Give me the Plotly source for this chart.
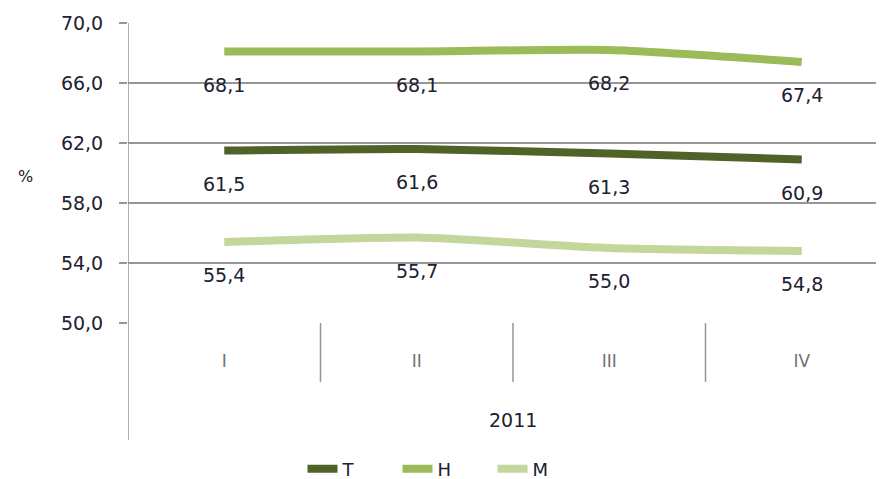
import plotly.graph_objects as go

categories = ["I", "II", "III", "IV"]
period = "2011"
series_names = ["T", "H", "M"]
t_values = [61.5, 61.6, 61.3, 60.9]
h_values = [68.1, 68.1, 68.2, 67.4]
m_values = [55.4, 55.7, 55.0, 54.8]
y_ticks = [50, 54, 58, 62, 66, 70]
colors = ["#4f6228", "#9bbb59", "#c3d69b"]

# page body has an 8px margin; figure is sized so it fits the 884x479 window
W, H = 876, 471
L, T, B = 120, 15, 156
plot_w = W - L
plot_h = H - T - B
cat_w = 192.5
x_pos = list(range(len(categories)))
x_max = plot_w / cat_w - 0.5

font = "DejaVu Sans"
text_col = "#202030"
grid_col = "#969696"

fig = go.Figure()
for name, vals, col in zip(series_names, [t_values, h_values, m_values], colors):
    fig.add_trace(go.Scatter(
        x=x_pos, y=vals, name=name, mode="lines",
        line=dict(color=col, width=8, shape="spline", smoothing=0.6),
        hoverinfo="skip",
    ))
    for xv, yv in zip(x_pos, vals):
        fig.add_annotation(x=xv, y=yv, xref="x", yref="y",
                           text=f"{yv:.1f}".replace(".", ","),
                           showarrow=False, yshift=-33,
                           font=dict(family=font, size=19, color=text_col))

# category dividers below the axis
for i in range(1, len(categories)):
    fig.add_shape(type="line", xref="x", yref="paper", x0=i - 0.5, x1=i - 0.5,
                  y0=0, y1=-59 / plot_h, line=dict(color=grid_col, width=1.5))
# left axis extending through category area
fig.add_shape(type="line", xref="x", yref="paper", x0=-0.5, x1=-0.5,
              y0=1, y1=-117 / plot_h, line=dict(color=grid_col, width=1.5))

fig.add_annotation(x=1.5, xref="x", y=-97 / plot_h, yref="paper", text=period,
                   showarrow=False, yanchor="middle",
                   font=dict(family=font, size=19, color=text_col))
fig.add_annotation(x=(8 - L) / plot_w, xref="paper", y=147 / plot_h, yref="paper",
                   text="%", showarrow=False, yanchor="middle",
                   font=dict(family=font, size=16, color=text_col))

fig.update_layout(
    width=W, height=H,
    margin=dict(l=L, r=0, t=T, b=B, autoexpand=False),
    paper_bgcolor="white", plot_bgcolor="white",
    separators=", ",
    showlegend=True,
    legend=dict(orientation="h", x=(437 - L) / plot_w, xanchor="center",
                y=-146 / plot_h, yanchor="middle",
                font=dict(family=font, size=18, color=text_col),
                entrywidth=50, itemwidth=30),
    xaxis=dict(range=[-0.5, x_max], tickvals=x_pos, ticktext=categories,
               showgrid=False, zeroline=False, showline=False, ticks="",
               ticklabelstandoff=26, automargin=False,
               tickfont=dict(family=font, size=17, color="#707070")),
    yaxis=dict(range=[50, 70], tickvals=y_ticks, tickformat=".1f",
               showgrid=True, gridcolor=grid_col, gridwidth=1.5,
               zeroline=False, showline=False, automargin=False,
               ticks="outside", ticklen=8, tickcolor=grid_col, tickwidth=1.5,
               ticklabelstandoff=12,
               tickfont=dict(family=font, size=19, color=text_col)),
)

fig.write_html("out.html")
